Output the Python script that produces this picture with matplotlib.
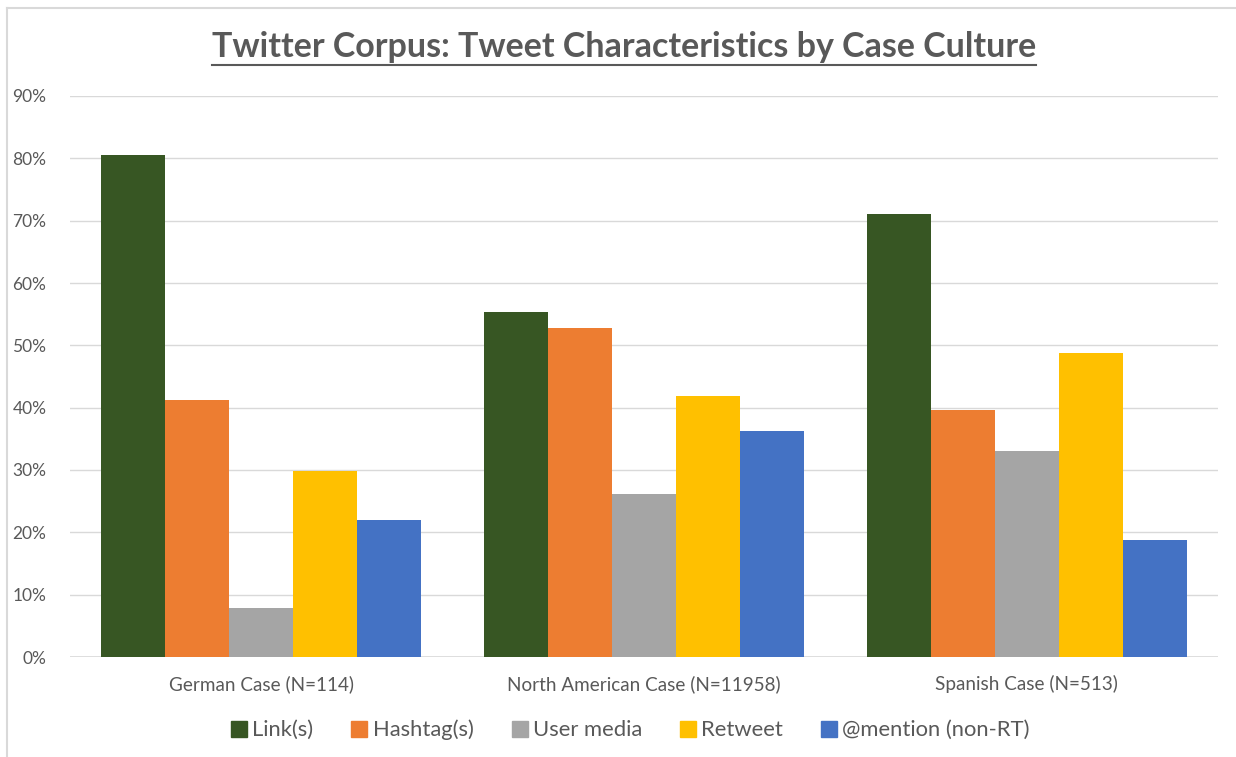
import matplotlib
matplotlib.use("Agg")
import matplotlib.pyplot as plt
from matplotlib.lines import Line2D
from matplotlib.ticker import FuncFormatter
import numpy as np

categories = ["German Case (N=114)", "North American Case (N=11958)", "Spanish Case (N=513)"]
series_names = ["Link(s)", "Hashtag(s)", "User media", "Retweet", "@mention (non-RT)"]
link = [0.806, 0.554, 0.711]
hashtag = [0.412, 0.528, 0.396]
user_media = [0.079, 0.261, 0.331]
retweet = [0.298, 0.419, 0.488]
mention = [0.220, 0.363, 0.188]
colors = ["#375623", "#ED7D31", "#A5A5A5", "#FFC000", "#4472C4"]
yticks = [0, 0.1, 0.2, 0.3, 0.4, 0.5, 0.6, 0.7, 0.8, 0.9]

plt.rcParams['font.family'] = ['Lato', 'DejaVu Sans']
W, H = 1236, 757
fig = plt.figure(figsize=(W / 100, H / 100), dpi=100)
ax = fig.add_axes([70 / W, 1 - 657 / H, (1218 - 70) / W, (657 - 96) / H])

series = [link, hashtag, user_media, retweet, mention]
x = np.arange(len(categories))
total = 0.836
bw = total / len(series)
handles = []
for i, (vals, c, name) in enumerate(zip(series, colors, series_names)):
    pos = x - total / 2 + bw * (i + 0.5)
    ax.bar(pos, vals, width=bw, color=c, label=name, zorder=3, linewidth=0)
    handles.append(Line2D([], [], marker='s', linestyle='none', markersize=11,
                          markerfacecolor=c, markeredgecolor=c, label=name))

ax.set_xlim(-0.5, len(categories) - 0.5)
ax.set_ylim(0, 0.9)
ax.set_yticks(yticks)
ax.yaxis.set_major_formatter(FuncFormatter(lambda v, p: f"{v*100:.0f}%"))
ax.grid(axis='y', color='#D9D9D9', linewidth=1.0, zorder=0)
for s in ax.spines.values():
    s.set_visible(False)
ax.axhline(0, color='#D9D9D9', linewidth=1.2, zorder=2)
ax.set_xticks(x)
ax.set_xticklabels(categories)
ax.tick_params(axis='both', length=0, colors='#595959')
ax.tick_params(axis='x', pad=13, labelsize=13.6)
ax.tick_params(axis='y', pad=17, labelsize=12.5)

fig.text(624 / W, 1 - 47 / H, "Twitter Corpus: Tweet Characteristics by Case Culture",
         ha='center', va='center', fontsize=24.5, fontweight='bold', color='#595959')
# underline
fig.add_artist(Line2D([212 / W, 1036 / W], [1 - 65 / H, 1 - 65 / H], color='#595959', linewidth=1.5))

leg = fig.legend(handles=handles, loc='center', bbox_to_anchor=(629 / W, 1 - 730 / H),
                 ncol=5, frameon=False, fontsize=15.8, handletextpad=0.1, columnspacing=1.6,
                 labelcolor='#595959', handlelength=1.0)

# chart border
fig.add_artist(Line2D([7 / W, 7 / W], [0, 1 - 8 / H], color='#D9D9D9', linewidth=1.5))
fig.add_artist(Line2D([7 / W, 1], [1 - 8 / H, 1 - 8 / H], color='#D9D9D9', linewidth=1.5))

fig.savefig("out.png", dpi=100)
